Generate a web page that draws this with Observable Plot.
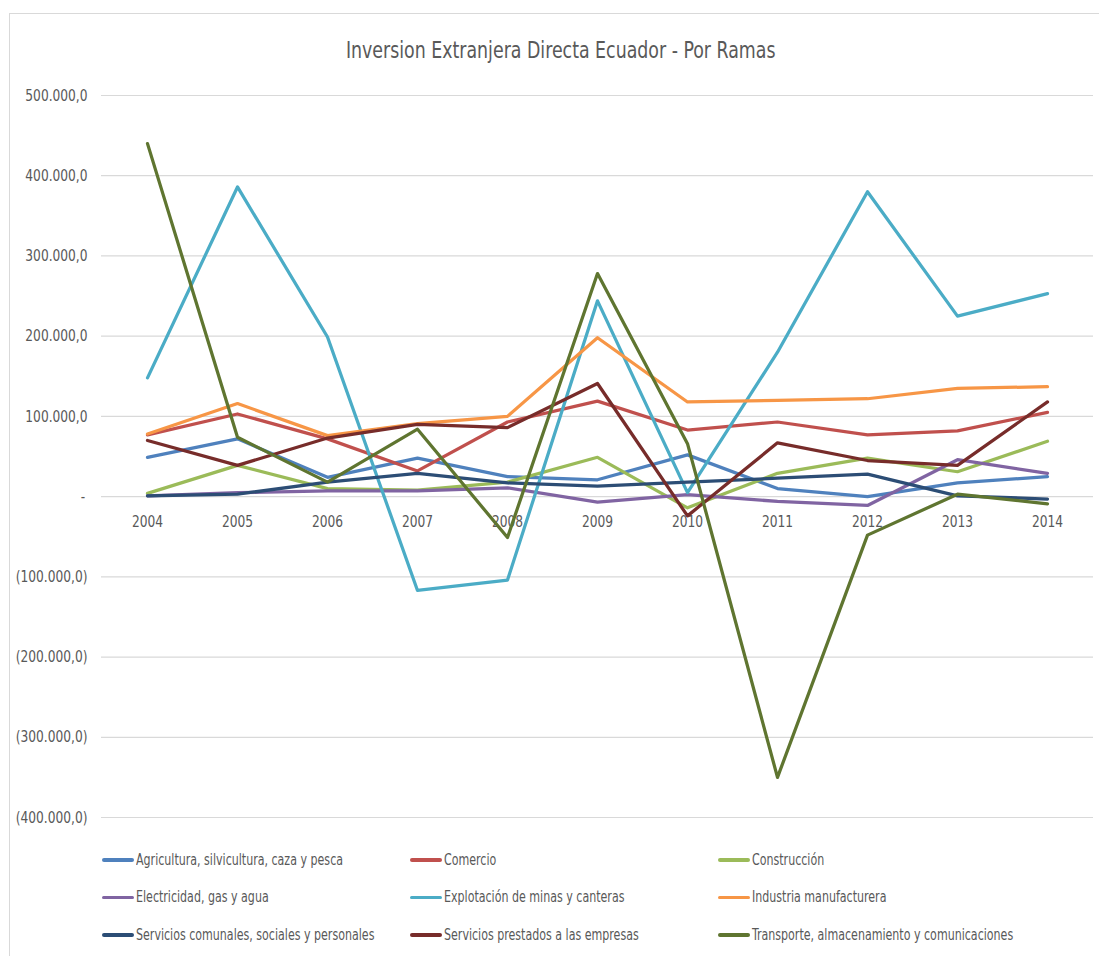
<!DOCTYPE html>
<html>
<head>
<meta charset="utf-8">
<script src="https://cdn.jsdelivr.net/npm/d3@7"></script>
<script src="https://cdn.jsdelivr.net/npm/@observablehq/plot@0.6"></script>
<style>
  body { margin: 0; background: #fff; font-family: "DejaVu Sans Condensed", "Liberation Sans Narrow", sans-serif; }
  #wrap { position: relative; width: 1099px; height: 956px; overflow: hidden; }
  #frame { position: absolute; left: 9px; top: 13px; width: 1200px; height: 1200px; border: 1.5px solid #D9D9D9; box-sizing: border-box; pointer-events: none; }
  #title { height: 70px; box-sizing: border-box; padding-top: 36px; text-align: center; line-height: 28px; padding-left: 22px; }
  #title span { display: inline-block; font-size: 23px; color: #595959; transform: scaleX(0.84); transform-origin: center; white-space: nowrap; }
  #legend { display: grid; grid-template-columns: 308px 308px 308px; margin-left: 102px; margin-top: 1px; }
  .item { display: flex; align-items: center; height: 37.6px; font-size: 15px; color: #595959; white-space: nowrap; }
  .sw { width: 32px; height: 3.5px; border-radius: 2px; margin-right: 2px; flex: none; }
  .lbl { display: inline-block; transform: scaleX(0.82); transform-origin: left center; }
  svg { display: block; }
</style>
</head>
<body>
<div id="wrap">
  <div id="frame"></div>
  <div id="title"><span>Inversion Extranjera Directa Ecuador - Por Ramas</span></div>
  <div id="chart"></div>
  <div id="legend"></div>
</div>
<script>
const years = [2004, 2005, 2006, 2007, 2008, 2009, 2010, 2011, 2012, 2013, 2014];

const seriesNames = [
  "Agricultura, silvicultura, caza y pesca",
  "Comercio",
  "Construcción",
  "Electricidad, gas y agua",
  "Explotación de minas y canteras",
  "Industria manufacturera",
  "Servicios comunales, sociales y personales",
  "Servicios prestados a las empresas",
  "Transporte, almacenamiento y comunicaciones"
];

const seriesColors = ["#4F81BD", "#C0504D", "#9BBB59", "#8064A2", "#4BACC6", "#F79646", "#2C4D75", "#772C2A", "#5F7530"];

const agricultura   = [49000, 72000, 24000, 48000, 25000, 21000, 52000, 10000, 0, 17000, 25000];
const comercio      = [77000, 103000, 72000, 32000, 93000, 119000, 83000, 93000, 77000, 82000, 105000];
const construccion  = [4000, 39000, 10000, 8000, 18000, 49000, -14000, 29000, 48000, 31000, 69000];
const electricidad  = [1000, 5000, 7000, 7000, 11000, -7000, 2500, -6000, -11000, 46000, 29000];
const explotacion   = [148000, 386000, 199000, -117000, -104000, 244000, 5000, 180000, 380000, 225000, 253000];
const industria     = [78000, 116000, 76000, 91000, 100000, 198000, 118000, 120000, 122000, 135000, 137000];
const servComunales = [1000, 3000, 18000, 29000, 17000, 13000, 18000, 23000, 28000, 1000, -3000];
const servPrestados = [70000, 39000, 73000, 90000, 86000, 141000, -24000, 67000, 45000, 39000, 118000];
const transporte    = [440000, 74000, 18000, 84000, -51000, 278000, 66000, -350000, -48000, 3000, -9000];

const yTicks = [500000, 400000, 300000, 200000, 100000, 0, -100000, -200000, -300000, -400000];

const seriesValues = [agricultura, comercio, construccion, electricidad, explotacion, industria, servComunales, servPrestados, transporte];

const data = [];
seriesNames.forEach((name, i) => {
  years.forEach((yr, j) => data.push({series: name, year: yr, value: seriesValues[i][j]}));
});

const locale = d3.formatLocale({decimal: ",", thousands: ".", grouping: [3], currency: ["", ""]});
const fmt = locale.format(",.1f");
const tickFmt = v => v === 0 ? "-\u2009" : (v < 0 ? "(" + fmt(-v) + ")" : fmt(v));

const chart = Plot.plot({
  width: 1099,
  height: 770,
  marginLeft: 101,
  marginRight: 6,
  marginTop: 25,
  marginBottom: 23,
  style: {fontFamily: '"DejaVu Sans Condensed", sans-serif', fontSize: "16px", color: "#595959", background: "transparent"},
  x: {type: "point", domain: years, padding: 0.5, axis: null},
  y: {domain: [-400000, 500000], ticks: yTicks, tickFormat: tickFmt, tickSize: 0, tickPadding: 14, label: null},
  color: {domain: seriesNames, range: seriesColors},
  marks: [
    Plot.gridY(yTicks, {stroke: "#D9D9D9", strokeOpacity: 1, strokeWidth: 1.2}),
    Plot.axisY({ticks: yTicks, tickFormat: tickFmt, tickSize: 0, tickPadding: 14, label: null, fill: "#595959", fontSize: 16}),
    Plot.text(years, {x: d => d, y: 0, text: d => String(d), dy: 25, fill: "#595959", fontSize: 16}),
    Plot.line(data, {x: "year", y: "value", z: "series", stroke: "series", strokeWidth: 3.25, strokeLinejoin: "round", strokeLinecap: "round"})
  ]
});
// condense the label glyphs horizontally, like the narrow font of the original
chart.querySelectorAll("text").forEach(t => {
  const x = parseFloat(t.getAttribute("x")) || 0;
  const prev = t.getAttribute("transform") || "";
  t.setAttribute("transform", `${prev} translate(${x},0) scale(0.85,1) translate(${-x},0)`.trim());
});
document.getElementById("chart").appendChild(chart);

const legend = document.getElementById("legend");
seriesNames.forEach((name, i) => {
  const item = document.createElement("div");
  item.className = "item";
  const sw = document.createElement("span");
  sw.className = "sw";
  sw.style.background = seriesColors[i];
  const label = document.createElement("span");
  label.className = "lbl";
  label.textContent = name;
  item.appendChild(sw);
  item.appendChild(label);
  legend.appendChild(item);
});
</script>
</body>
</html>
